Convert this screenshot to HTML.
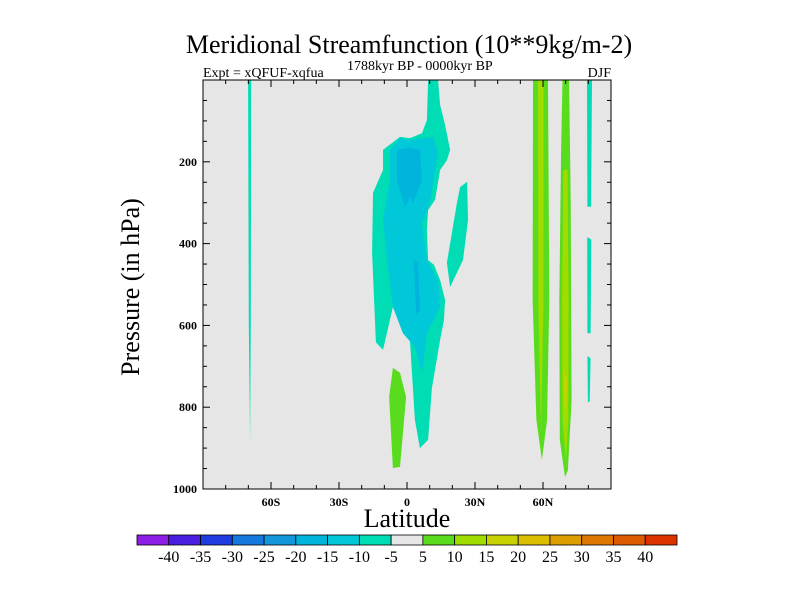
<!DOCTYPE html>
<html><head><meta charset="utf-8">
<style>
html,body{margin:0;padding:0;background:#fff;}
svg{display:block;font-family:"Liberation Serif",serif;}
</style></head>
<body>
<svg id="chart" width="800" height="600" viewBox="0 0 800 600">
<text x="409" y="53" font-size="26" text-anchor="middle">Meridional Streamfunction (10**9kg/m-2)</text>
<text x="203" y="77" font-size="14">Expt = xQFUF-xqfua</text>
<text x="347" y="70" font-size="14">1788kyr BP - 0000kyr BP</text>
<text x="611" y="77" font-size="14" text-anchor="end">DJF</text>
<rect x="203" y="80" width="408" height="409" fill="#e6e6e6"/>
<g id="fills"></g>
<rect x="203" y="80" width="408" height="409" fill="none" stroke="#000" stroke-width="1"/>
<g id="ticks"></g>
<text x="407" y="527" font-size="26" text-anchor="middle">Latitude</text>
<text transform="translate(139,287) rotate(-90)" font-size="26" text-anchor="middle">Pressure (in hPa)</text>
<g id="colorbar"></g>
</svg>
<script>
const latTicks = [-60,-30,0,30,60];
const latLabels = ["60S","30S","0","30N","60N"];
const pTicks = [200,400,600,800,1000];
const levelLabels = ["-40","-35","-30","-25","-20","-15","-10","-5","5","10","15","20","25","30","35","40"];
const levelColors = ["#8c1ee6","#4a1ee0","#1e3ce0","#1478dc","#1496dc","#00b4dc","#00c8d8","#00dcb4","#e6e6e6","#5adc1e","#a0dc00","#c8d200","#dcbe00","#dc9e00","#dc7800","#dc5a00","#dc3200"];
// contour regions: [lat, pressure] vertices with level value
const regionLevels = [-5,-10,-15,-15,-5,5,5,10,5,10,15,-5,-5,-5,-5];
const regionShapes = [
 [[9.3,0],[13.7,0],[14.6,61],[16.8,110],[19,171],[17.6,196],[14.6,220],[12.4,293],[9.3,318],[8.8,367],[9.3,440],[11.9,452],[14.6,489],[16.8,538],[16.3,587],[14.6,636],[11,753],[9.3,880],[5.7,900],[3.5,831],[1.3,636],[-6.2,555],[-10.6,660],[-13.7,641],[-15.4,423],[-15,276],[-10.6,220],[-10.6,171],[-3.1,139],[1.3,142],[6.6,130],[8.8,98]],
 [[-7.5,171],[-3.1,142],[1.3,147],[11.5,139],[13.7,178],[10.1,301],[6.6,350],[8.8,440],[13.7,489],[14.6,555],[8.8,619],[6.6,716],[3.5,653],[-1.8,619],[-6.2,555],[-8.8,440],[-10.6,342],[-7.5,245]],
 [[-4.4,171],[1.3,166],[5.7,171],[6.6,245],[2.6,301],[1.3,286],[-0.9,311],[-4.4,245]],
 [[3,440],[4.9,445],[5.7,562],[4,575]],
 [[26.5,249],[26.9,342],[24.7,440],[19,506],[17.6,447],[22,301],[23.4,262]],
 [[-6.2,704],[-3.1,716],[-0.4,775],[-3.1,946],[-6.2,949],[-7.9,775]],
 [[55.6,0],[62.2,0],[62.8,538],[61.8,831],[59.5,929],[57.1,831],[55.4,538]],
 [[57.8,0],[60.2,0],[60.2,538],[59.1,856],[57.9,538]],
 [[68.6,0],[71.5,0],[72.2,293],[72.6,782],[71,954],[69.7,971],[67.4,880],[67.2,538],[68,171]],
 [[69,220],[70.8,220],[71.3,538],[71.2,831],[70.1,929],[68.6,831],[68.4,538]],
 [[69.3,709],[70.6,734],[70.1,831],[69.3,782]],
 [[79.4,0],[81.6,0],[81.2,310],[79.6,310]],
 [[79.5,384],[81.3,390],[81,619],[79.6,619]],
 [[79.6,675],[81,680],[80.6,787],[79.8,787]],
 [[-70.1,0],[-68.8,0],[-68.9,600],[-69.2,880],[-69.8,600]]
];
const X0=203,X1=611,Y0=80,Y1=489;
function xs(lat){return X0+(lat+90)/180*(X1-X0);}
function ys(p){return Y0+p/1000*(Y1-Y0);}
const NS="http://www.w3.org/2000/svg";
function mk(tag,attrs,parent){const e=document.createElementNS(NS,tag);for(const k in attrs)e.setAttribute(k,attrs[k]);parent.appendChild(e);return e;}
const fills=document.getElementById('fills');
regionShapes.forEach((shape,i)=>{
  const v=regionLevels[i];
  const idx=levelLabels.indexOf(String(v));
  const c = v<0 ? levelColors[idx] : levelColors[idx+1];
  const pg=mk('polygon',{points:shape.map(q=>xs(q[0]).toFixed(1)+','+ys(q[1]).toFixed(1)).join(' '),fill:c},fills);
  
  
});
const tk=document.getElementById('ticks');
for(let lat=-80;lat<=80;lat+=10){
  const major=lat%30===0, len=major?7:4, x=xs(lat);
  mk('line',{x1:x,y1:Y1,x2:x,y2:Y1-len,stroke:'#000'},tk);
  mk('line',{x1:x,y1:Y0,x2:x,y2:Y0+len,stroke:'#000'},tk);
}
latTicks.forEach((lat,i)=>{
  const t=mk('text',{x:xs(lat),y:506,'font-size':12,'font-weight':'bold','text-anchor':'middle'},tk);
  t.textContent=latLabels[i];
  
  
});
for(let p=50;p<1000;p+=50){
  const major=p%200===0,len=major?7:4,y=ys(p);
  mk('line',{x1:X0,y1:y,x2:X0+len,y2:y,stroke:'#000'},tk);
  mk('line',{x1:X1,y1:y,x2:X1-len,y2:y,stroke:'#000'},tk);
}
pTicks.forEach(p=>{
  const t=mk('text',{x:197,y:ys(p)+4,'font-size':12,'font-weight':'bold','text-anchor':'end'},tk);
  t.textContent=String(p);
  
  
});
const cb=document.getElementById('colorbar');
const CB0=137,CB1=677,bw=(CB1-CB0)/levelColors.length;
levelColors.forEach((c,i)=>{
  const r=mk('rect',{x:CB0+i*bw,y:535,width:bw,height:10,fill:c,stroke:'#000','stroke-width':0.8},cb);
  
  
});
levelLabels.forEach((l,i)=>{
  const t=mk('text',{x:CB0+(i+1)*bw,y:562,'font-size':16,'text-anchor':'middle'},cb);
  t.textContent=l;
  
  
});
</script>
</body></html>
